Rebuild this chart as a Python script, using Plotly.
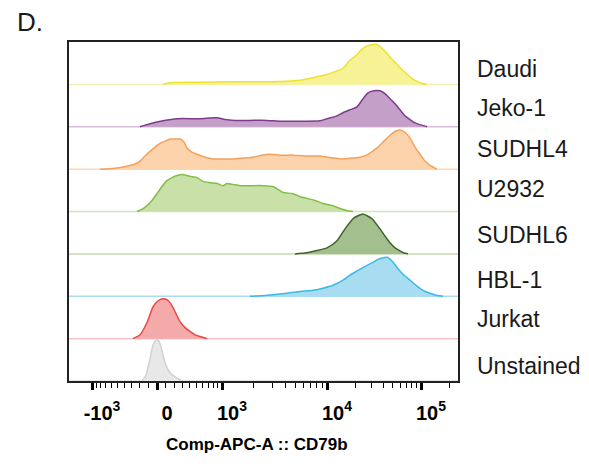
import math
import plotly.graph_objects as go

# ---------------- data (display channel units along the biexponential axis; height in % of mode) -------------
cell_lines = ["Unstained", "Jurkat", "HBL-1", "SUDHL6", "U2932", "SUDHL4", "Jeko-1", "Daudi"]

daudi_x = [94, 101, 126, 171, 211, 231, 246, 256, 266, 274, 281, 287, 294, 299, 304, 308, 313, 318, 323, 328, 333, 338, 343, 348, 353, 358]
daudi_y = [0, 4, 5, 6, 7, 10, 17, 22, 30, 38, 57, 68, 85, 91, 94, 94, 85, 73, 59, 47, 35, 24, 14, 7, 2, 0]

jeko_x = [71, 81, 94, 108, 131, 148, 156, 166, 181, 198, 211, 221, 236, 251, 258, 266, 274, 281, 288, 294, 299, 305, 311, 316, 321, 326, 331, 336, 341, 346, 351, 358]
jeko_y = [0, 7, 14, 19, 19, 21, 17, 15, 15, 15, 13, 13, 13, 14, 19, 24, 33, 40, 47, 66, 80, 85, 85, 78, 66, 54, 40, 26, 17, 9, 5, 0]

sudhl4_x = [31, 46, 58, 66, 71, 76, 81, 86, 91, 96, 101, 106, 111, 115, 118, 123, 128, 136, 144, 154, 164, 174, 184, 193, 201, 211, 224, 236, 251, 264, 274, 283, 291, 299, 308, 315, 321, 327, 332, 336, 341, 346, 351, 356, 361, 368]
sudhl4_y = [0, 2, 7, 12, 19, 31, 42, 52, 61, 66, 71, 71, 71, 64, 50, 40, 35, 28, 24, 24, 24, 26, 28, 33, 35, 33, 33, 31, 31, 26, 24, 26, 28, 35, 50, 66, 80, 90, 92, 87, 73, 52, 35, 19, 9, 0]

u2932_x = [68, 73, 78, 83, 88, 93, 98, 103, 108, 114, 121, 128, 134, 141, 148, 154, 158, 164, 171, 181, 194, 204, 209, 214, 224, 231, 238, 246, 254, 263, 271, 278, 284]
u2932_y = [0, 5, 14, 26, 42, 59, 73, 80, 85, 87, 83, 80, 71, 68, 66, 61, 66, 64, 61, 61, 61, 59, 52, 45, 42, 35, 31, 26, 19, 14, 7, 2, 0]

sudhl6_x = [226, 236, 246, 258, 268, 276, 284, 289, 294, 298, 303, 311, 316, 321, 326, 331, 335, 339]
sudhl6_y = [0, 2, 7, 14, 31, 59, 83, 90, 94, 90, 83, 59, 42, 26, 14, 7, 2, 0]

hbl1_x = [181, 196, 218, 231, 244, 254, 264, 274, 281, 289, 298, 304, 309, 314, 318, 323, 328, 334, 341, 348, 354, 361, 368, 374]
hbl1_y = [0, 2, 7, 11, 14, 19, 26, 38, 50, 61, 73, 80, 87, 91, 92, 83, 68, 52, 38, 24, 14, 7, 2, 0]

jurkat_x = [64, 71, 78, 84, 88, 91, 94, 98, 101, 104, 108, 111, 116, 121, 126, 131, 138]
jurkat_y = [0, 9, 38, 75, 87, 92, 94, 92, 85, 73, 54, 40, 26, 17, 9, 5, 0]

unstained_x = [73, 77, 81, 84, 86, 88, 90, 92, 95, 98, 102, 108, 114]
unstained_y = [0, 14, 52, 85, 94, 97, 94, 80, 52, 31, 17, 7, 0]

series_x = [unstained_x, jurkat_x, hbl1_x, sudhl6_x, u2932_x, sudhl4_x, jeko_x, daudi_x]
series_y = [unstained_y, jurkat_y, hbl1_y, sudhl6_y, u2932_y, sudhl4_y, jeko_y, daudi_y]

line_colors = ["#d2d2d2", "#eb4646", "#3cb9e6", "#3c6428", "#82be46", "#f5a05a", "#803c8c", "#ede22c"]
fill_colors = ["#e8e8e8", "#f5aaaa", "#a8dcf0", "#a3bf8e", "#c9e1a8", "#fcd3ab", "#c4a0c8", "#f8f296"]
base_colors = ["#dddddd", "#f6c4c4", "#a8dcf2", "#c6dab0", "#d3e6bb", "#fcd9bb", "#d8bddb", "#f4efb4"]

# axis: biexponential display
major_values = [-1e3, 0, 1e3, 1e4, 1e5]
major_text = ["-10<sup>3</sup>", "0", "10<sup>3</sup>", "10<sup>4</sup>", "10<sup>5</sup>"]
zero_pos = 88
decade_offsets = [65, 170, 264]   # offsets from zero for 10^3, 10^4, 10^5


def axis_pos(v):
    a = abs(v)
    s = 1 if v >= 0 else -1
    if a < 1000:
        off = decade_offsets[0] * math.asinh(2 * a / 1000) / math.asinh(2)
    else:
        L = math.log10(a)
        if L <= 4:
            off = decade_offsets[0] + (L - 3) * (decade_offsets[1] - decade_offsets[0])
        else:
            off = decade_offsets[1] + (L - 4) * (decade_offsets[2] - decade_offsets[1])
    return zero_pos + s * off


minor_values = ([-k * 100 for k in range(1, 10)] + [k * 100 for k in range(1, 10)]
                + [k * 1000 for k in range(2, 10)] + [k * 10000 for k in range(2, 10)] + [2e5])

X_MAX = 389

fig = go.Figure()
for i in range(len(cell_lines)):
    xs = series_x[i]
    ys = [i + v / 100.0 for v in series_y[i]]
    # baseline
    fig.add_trace(go.Scatter(x=[0, X_MAX], y=[i, i], mode="lines",
                             line=dict(color=base_colors[i], width=1.5),
                             hoverinfo="skip", showlegend=False))
    # filled area
    fig.add_trace(go.Scatter(x=xs, y=ys, mode="lines", fill="toself",
                             fillcolor=fill_colors[i],
                             line=dict(width=0, shape="spline", smoothing=0.6),
                             hoverinfo="skip", showlegend=False))
    # outline
    fig.add_trace(go.Scatter(x=xs, y=ys, mode="lines",
                             line=dict(color=line_colors[i], width=1.5, shape="spline", smoothing=0.6),
                             name=cell_lines[i], showlegend=False))

# page body has an 8px margin: figure coordinates = window coordinates - 8
OFF = 8
W, H = 573, 450
L, T = 69 - OFF, 42 - OFF
R = W - (458 - OFF)
B = H - (381 - OFF)
plot_h = H - T - B
plot_w = W - L - R


def px_to_paper_x(px):
    return (px - OFF - L) / plot_w


def px_to_paper_y(py):
    return (H - B - (py - OFF)) / plot_h


font_family = "Liberation Sans, Arial, sans-serif"

fig.update_layout(
    width=W, height=H,
    margin=dict(l=L, r=R, t=T, b=B, pad=0),
    paper_bgcolor="white", plot_bgcolor="white",
    xaxis=dict(range=[0, X_MAX], showgrid=False, zeroline=False,
               showline=True, mirror=True, linecolor="#222222", linewidth=1.5,
               tickmode="array", tickvals=[axis_pos(v) for v in major_values], ticktext=major_text,
               ticks="outside", ticklen=7, tickwidth=3, tickcolor="black",
               ticklabelshift=10, ticklabelstandoff=6,
               tickfont=dict(family=font_family, size=20, color="black", weight="bold"),
               minor=dict(tickmode="array", tickvals=[axis_pos(v) for v in minor_values],
                          ticks="outside", ticklen=5, tickwidth=1.3, tickcolor="black", showgrid=False)),
    yaxis=dict(range=[0, 8], showgrid=False, zeroline=False, showticklabels=False,
               showline=True, mirror=True, linecolor="#222222", linewidth=1.5, ticks=""),
)

# row labels
label_y_px = [366, 318.5, 280, 235, 188.5, 148.5, 108, 68.5]
for name, ypx in zip(cell_lines, label_y_px):
    fig.add_annotation(text=name, xref="paper", yref="paper",
                       x=px_to_paper_x(475), y=px_to_paper_y(ypx),
                       xanchor="left", yanchor="middle", showarrow=False,
                       font=dict(family=font_family, size=23, color="#1a1a1a"))

# axis title
fig.add_annotation(text="Comp-APC-A :: CD79b", xref="paper", yref="paper",
                   x=px_to_paper_x(256.5), y=px_to_paper_y(444),
                   xanchor="center", yanchor="middle", showarrow=False,
                   font=dict(family=font_family, size=17, color="black", weight="bold"))

# panel letter
fig.add_annotation(text="D.", xref="paper", yref="paper",
                   x=px_to_paper_x(15), y=px_to_paper_y(21.7),
                   xanchor="left", yanchor="middle", showarrow=False,
                   font=dict(family=font_family, size=26, color="#1a1a1a"))

fig.write_html("out.html")
